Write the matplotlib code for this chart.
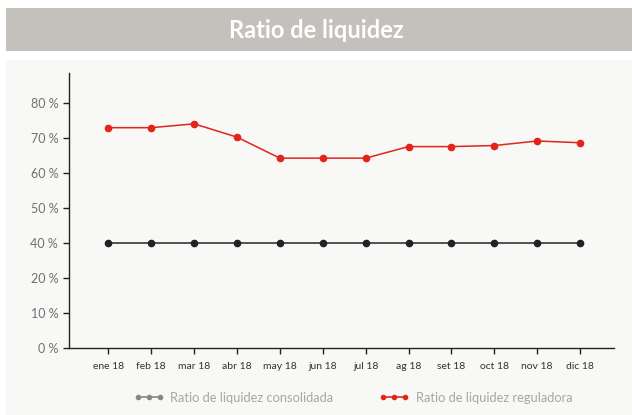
import numpy as np
import matplotlib
matplotlib.use("Agg")
import matplotlib.pyplot as plt
from matplotlib.patches import Rectangle
from matplotlib.lines import Line2D

plt.rcParams['font.family'] = ['Lato', 'DejaVu Sans']

meses = ["ene 18", "feb 18", "mar 18", "abr 18", "may 18", "jun 18",
         "jul 18", "ag 18", "set 18", "oct 18", "nov 18", "dic 18"]
consolidada = [40, 40, 40, 40, 40, 40, 40, 40, 40, 40, 40, 40]
reguladora = [73.0, 73.0, 74.1, 70.3, 64.3, 64.3, 64.3, 67.6, 67.6, 67.9, 69.2, 68.7]
# the original axis skips 30 %: 20 % is followed straight by 40 %
y_ticks = [0, 10, 20, 40, 50, 60, 70, 80]
y_labels = ["0 %", "10 %", "20 %", "40 %", "50 %", "60 %", "70 %", "80 %"]

# piecewise scale so 20 -> 40 takes one tick step
v_pts = [0, 20, 40, 120]
p_pts = [0, 20, 30, 110]
def fwd(v):
    return np.interp(v, v_pts, p_pts)
def inv(p):
    return np.interp(p, p_pts, v_pts)

fig = plt.figure(figsize=(6.32, 4.15), dpi=100)
fig.patch.set_facecolor("white")

# grey panel and title bar
fig.patches.append(Rectangle((6 / 632, 0), 1, 1 - 60 / 415, transform=fig.transFigure,
                             facecolor="#f8f8f6", edgecolor="none", zorder=-2))
fig.patches.append(Rectangle((6 / 632, 1 - 51 / 415), 1, 43 / 415, transform=fig.transFigure,
                             facecolor="#c4c0bb", edgecolor="none", zorder=-1))
fig.text(0.5, 1 - 30 / 415, "Ratio de liquidez", ha="center", va="center",
         color="white", fontsize=17, fontweight="bold")

ax = fig.add_axes([69.3 / 632, 1 - 348.3 / 415, (614 - 69.3) / 632, (348.3 - 72.7) / 415])
ax.set_facecolor("none")
ax.set_yscale("function", functions=(fwd, inv))

x = np.arange(len(meses))
ax.plot(x, consolidada, color="#444444", lw=1.3, marker="o", ms=4.5,
        mfc="#222222", mec="#222222", zorder=3)
ax.plot(x, reguladora, color="#e3241b", lw=1.1, marker="o", ms=4.5,
        mfc="#e3241b", mec="#e3241b", zorder=3)

ax.set_xlim(-0.91, 11.79)
ax.set_ylim(0, 88.7)
ax.set_xticks(x)
ax.set_xticklabels(meses, fontsize=7.5, color="#333333")
ax.set_yticks(y_ticks)
ax.set_yticklabels(y_labels, fontsize=9, color="#707070")
ax.yaxis.set_minor_locator(matplotlib.ticker.NullLocator())
ax.tick_params(axis="x", length=4, width=1, pad=6, color="#222222")
ax.tick_params(axis="y", length=4, width=1, pad=4, color="#222222")
for s in ["top", "right"]:
    ax.spines[s].set_visible(False)
for s in ["left", "bottom"]:
    ax.spines[s].set_color("#222222")
    ax.spines[s].set_linewidth(1)

handles = [Line2D([], [], color="#8c8580", lw=1.2, marker="o", ms=3),
           Line2D([], [], color="#e3241b", lw=1.2, marker="o", ms=3)]
leg = fig.legend(handles, ["Ratio de liquidez consolidada", "Ratio de liquidez reguladora"],
                 loc="center", bbox_to_anchor=(353 / 632, 1 - 398 / 415), ncol=2,
                 frameon=False, fontsize=9.3, numpoints=3, handlelength=2.3,
                 handletextpad=0.5, columnspacing=3.6, labelcolor="#a6a6a6")

fig.savefig("out.png", dpi=100)
